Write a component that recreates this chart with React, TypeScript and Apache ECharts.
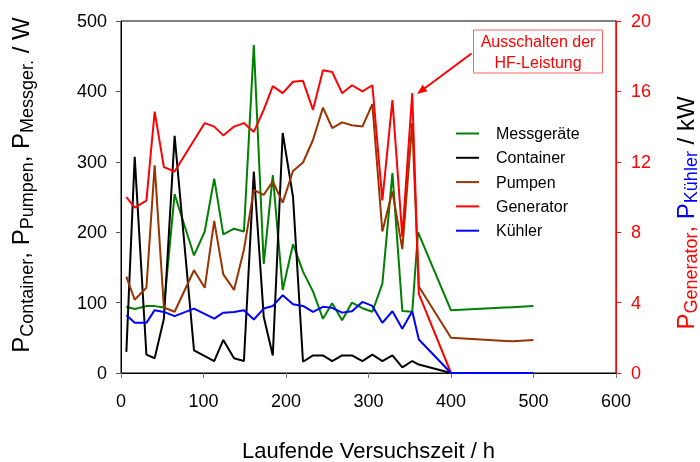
import React, { useEffect, useRef } from "react";
import * as echarts from "echarts";

// ---- data (hours / values) ----
const messHours = [6.5, 16.6, 30.8, 40.8, 52, 65, 76, 88.5, 101.5, 113, 124, 137, 149, 161, 173, 184, 196, 208.5, 220.6, 232.7, 244.8, 256, 268, 280, 292.6, 304.7, 316.8, 329, 341, 353, 360, 400, 500];
const messValues = [94, 91, 95, 95, 93, 254, 213, 167, 201, 276, 197, 205, 201, 466, 155, 281, 118, 183, 144, 116, 77, 99, 75, 100, 92, 87, 127, 284, 88, 87, 200, 89, 95];

const contHours = [6.5, 16.6, 30.8, 40.8, 52, 65, 88.5, 113, 124, 137, 149, 161, 173, 184, 196, 208.5, 220.6, 232.7, 244.8, 256, 268, 280, 292.6, 304.7, 316.8, 329, 341, 353, 361, 400];
const contValues = [30, 307, 26, 21, 77, 337, 32, 17, 47, 21, 17, 286, 80, 25, 341, 250, 16, 25, 25, 17, 25, 25, 17, 26, 17, 25, 8, 17, 12, 0];

const pumpHours = [6.5, 16.6, 30.8, 40.8, 52, 65, 88.5, 101.5, 113, 124, 137, 149, 161, 173, 184, 196, 208.5, 220.6, 232.7, 244.8, 256, 268, 280, 292.6, 304.7, 316.8, 329, 341, 353, 361, 400, 475, 500];
const pumpValues = [137, 104, 121, 295, 93, 87, 146, 121, 216, 140, 118, 175, 260, 253, 272, 242, 287, 299, 331, 377, 348, 356, 352, 350, 382, 201, 258, 176, 355, 123, 50, 45, 47];

const genHours = [6.5, 16.6, 30.8, 40.8, 52, 65, 101.5, 113, 124, 137, 149, 161, 173, 184, 196, 208.5, 220.6, 232.7, 244.8, 256, 268, 280, 292.6, 304.7, 316.8, 329, 341, 353, 361, 400, 500];
const genValues = [10.0, 9.4, 9.8, 14.85, 11.7, 11.45, 14.2, 14.0, 13.5, 14.0, 14.2, 13.7, 14.95, 16.3, 15.9, 16.55, 16.6, 14.95, 17.2, 17.1, 15.9, 16.35, 16.0, 16.35, 9.8, 15.5, 7.75, 15.9, 4.5, 0, 0];

const kuehHours = [6.5, 16.6, 30.8, 40.8, 52, 65, 88.5, 113, 124, 137, 149, 161, 173, 184, 196, 208.5, 220.6, 232.7, 244.8, 256, 268, 280, 292.6, 304.7, 316.8, 329, 341, 353, 361, 400, 500];
const kuehValues = [3.3, 2.85, 2.85, 3.57, 3.47, 3.23, 3.66, 3.09, 3.43, 3.47, 3.57, 3.04, 3.66, 3.81, 4.42, 3.91, 3.81, 3.47, 3.76, 3.7, 3.43, 3.51, 4.04, 3.81, 2.85, 3.51, 2.52, 3.51, 1.9, 0, 0];

const seriesNames = ["Messgeräte", "Container", "Pumpen", "Generator", "Kühler"];
const seriesColors = ["#008000", "#000000", "#993300", "#ff0000", "#0000ff"];

const xRange = { min: 0, max: 600, interval: 100 };
const yLeftRange = { min: 0, max: 500, interval: 100 };
const yRightRange = { min: 0, max: 20, interval: 4 };

const FONT = "Liberation Sans, Arial, sans-serif";

type Part = { text: string; size: number; color: string; sub?: boolean };

function measure(text: string, size: number): number {
  const c = document.createElement("canvas").getContext("2d");
  if (!c) return text.length * size * 0.55;
  c.font = `${size}px ${FONT}`;
  return c.measureText(text).width;
}

function rotatedTitle(parts: Part[], cx: number, cy: number, subOffset: number) {
  const widths = parts.map((p) => measure(p.text, p.size));
  const total = widths.reduce((a, b) => a + b, 0);
  let x = -total / 2;
  const children = parts.map((p, i) => {
    const el = {
      type: "text",
      x,
      y: p.sub ? subOffset : 0,
      style: {
        text: p.text,
        fontSize: p.size,
        fontFamily: FONT,
        fill: p.color,
        align: "left",
        verticalAlign: "middle",
      },
    };
    x += widths[i];
    return el;
  });
  return { type: "group", x: cx, y: cy, rotation: Math.PI / 2, children };
}

function pairs(h: number[], v: number[]) {
  return h.map((x, i) => [x, v[i]]);
}

export default function App() {
  const ref = useRef<HTMLDivElement>(null);
  useEffect(() => {
    if (!ref.current) return;
    const chart = echarts.init(ref.current, null, { renderer: "svg" });
    const M = 24;
    const S = 18;
    const leftTitle = rotatedTitle(
      [
        { text: "P", size: M, color: "#000" },
        { text: "Container", size: S, color: "#000", sub: true },
        { text: ", ", size: M, color: "#000" },
        { text: "P", size: M, color: "#000" },
        { text: "Pumpen", size: S, color: "#000", sub: true },
        { text: ", ", size: M, color: "#000" },
        { text: "P", size: M, color: "#000" },
        { text: "Messger.", size: S, color: "#000", sub: true },
        { text: " / W", size: M, color: "#000" },
      ],
      20,
      185,
      7
    );
    const rightTitle = rotatedTitle(
      [
        { text: "P", size: M, color: "#ff0000" },
        { text: "Generator", size: S, color: "#ff0000", sub: true },
        { text: ", ", size: M, color: "#ff0000" },
        { text: "P", size: M, color: "#0000ff" },
        { text: "Kühler", size: S, color: "#0000ff", sub: true },
        { text: " / kW", size: M, color: "#000" },
      ],
      685,
      213,
      6
    );

    const hoursList = [messHours, contHours, pumpHours, genHours, kuehHours];
    const valuesList = [messValues, contValues, pumpValues, genValues, kuehValues];

    // annotation arrow geometry
    const ax0 = 471.5, ay0 = 53.5, ax1 = 417, ay1 = 94;
    const dx = ax1 - ax0, dy = ay1 - ay0;
    const len = Math.sqrt(dx * dx + dy * dy);
    const ux = dx / len, uy = dy / len;
    const hl = 10, hw = 4;
    const bx = ax1 - ux * hl, by = ay1 - uy * hl;

    chart.setOption({
      animation: false,
      grid: { left: 121, right: 84, top: 21, bottom: 89, show: true, borderColor: "#000", borderWidth: 1, backgroundColor: "transparent" },
      legend: {
        orient: "vertical",
        left: 451,
        top: 120.5,
        itemWidth: 23,
        itemHeight: 2,
        itemGap: 8.3,
        icon: "rect",
        data: seriesNames,
        textStyle: { fontSize: 16, fontFamily: FONT, color: "#000", lineHeight: 16, padding: [0, 0, 0, 12] },
      },
      xAxis: {
        type: "value",
        ...xRange,
        axisLine: { show: true, lineStyle: { color: "#000", width: 1 } },
        axisTick: { show: true, inside: false, length: 5, lineStyle: { color: "#777" } },
        axisLabel: { fontSize: 18, fontFamily: FONT, color: "#000", margin: 19 },
        splitLine: { show: false },
      },
      yAxis: [
        {
          type: "value",
          ...yLeftRange,
          position: "left",
          axisLine: { show: true, lineStyle: { color: "#000", width: 1 } },
          axisTick: { show: true, inside: false, length: 5, lineStyle: { color: "#555" } },
          axisLabel: { fontSize: 18, fontFamily: FONT, color: "#000", margin: 14 },
          splitLine: { show: false },
        },
        {
          type: "value",
          ...yRightRange,
          position: "right",
          axisLine: { show: true, lineStyle: { color: "#ff0000", width: 1 } },
          axisTick: { show: true, inside: false, length: 5, lineStyle: { color: "#ff0000" } },
          axisLabel: { fontSize: 18, fontFamily: FONT, color: "#ff0000", margin: 15 },
          splitLine: { show: false },
        },
      ],
      series: seriesNames.map((name, i) => ({
        name,
        type: "line",
        yAxisIndex: i >= 3 ? 1 : 0,
        data: pairs(hoursList[i], valuesList[i]),
        symbol: "none",
        color: seriesColors[i],
        lineStyle: { color: seriesColors[i], width: 2 },
        z: 2 + i,
      })),
      graphic: [
        leftTitle,
        rightTitle,
        {
          type: "text",
          x: 368.5,
          y: 450,
          style: { text: "Laufende Versuchszeit / h", fontSize: 22, fontFamily: FONT, fill: "#000", align: "center", verticalAlign: "middle" },
        },
        {
          type: "rect",
          shape: { x: 473.5, y: 30, width: 129, height: 43 },
          style: { fill: "#fff", stroke: "#ff6060", lineWidth: 1 },
          z: 100,
        },
        {
          type: "text",
          x: 538,
          y: 51.5,
          z: 101,
          style: { text: "Ausschalten der\nHF-Leistung", fontSize: 16, lineHeight: 21, fontFamily: FONT, fill: "#ff0000", align: "center", verticalAlign: "middle" },
        },
        {
          type: "line",
          z: 101,
          shape: { x1: ax0, y1: ay0, x2: bx + ux * 2, y2: by + uy * 2 },
          style: { stroke: "#ff0000", lineWidth: 2 },
        },
        {
          type: "polygon",
          z: 101,
          shape: { points: [[ax1, ay1], [bx - uy * hw, by + ux * hw], [bx + uy * hw, by - ux * hw]] },
          style: { fill: "#ff0000" },
        },
      ],
    });
    return () => chart.dispose();
  }, []);
  return <div ref={ref} style={{ width: 700, height: 462, position: "fixed", left: 0, top: 0 }} />;
}
